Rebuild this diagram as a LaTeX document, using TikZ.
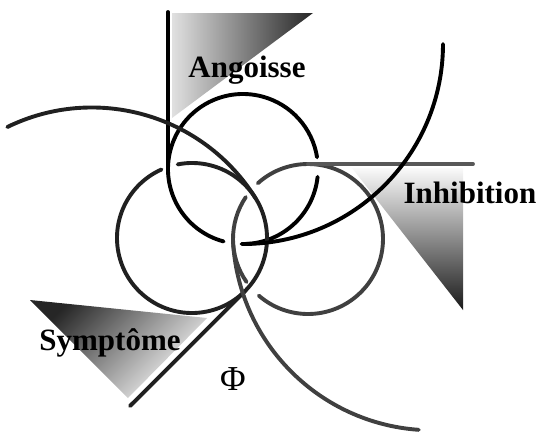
\documentclass[tikz,border=0pt]{standalone}
\usepackage{fontspec}
\setmainfont{Liberation Serif}
\usetikzlibrary{calc}
\definecolor{AngoisseInk}{RGB}{0,0,0}
\definecolor{SymptomeInk}{RGB}{32,32,32}
\definecolor{InhibitionInk}{RGB}{64,64,64}
\definecolor{InhibitionBar}{RGB}{88,88,88}

\begin{document}
\begin{tikzpicture}[x=1pt,y=-1pt,line width=3.9pt,line cap=round,
  wordlabel/.style={font=\bfseries\fontsize{31}{31}\selectfont,anchor=base,inner sep=0pt}]
  \useasboundingbox (0,0) rectangle (542,432);
  % ring centres and centres of the long arcs
  \coordinate (angC) at (243,169);
  \coordinate (symC) at (192,238);
  \coordinate (inhC) at (308,239);
  \coordinate (angO) at (243,44);
  \coordinate (symO) at (91.9,300.5);
  \coordinate (inhO) at (432.7,230.3);
  \coordinate (angEnd) at (168,12);
  \coordinate (inhEnd) at (473,164);
  \coordinate (symEnd) at (130,406);
  % shaded flags
  \shade[left color=black!12,right color=black!85] (172,13) -- (313,13) -- (172,118) -- cycle;
  \shade[top color=black!2,bottom color=black!90] (352,168) -- (463,168) -- (463,310) -- cycle;
  \shade[top color=black!85,bottom color=black!2,shading angle=45] (30,300) -- (207,318) -- (128,398) -- cycle;
  % the three rings, with gaps where they pass under
  \draw[AngoisseInk] (angC) ++(6:75) arc[start angle=6,end angle=91,radius=75];
  \draw[AngoisseInk] (angC) ++(105:75) arc[start angle=105,end angle=351,radius=75];
  \draw[SymptomeInk] (symC) ++(259:75) arc[start angle=259,end angle=606,radius=75];
  \draw[InhibitionInk] (inhC) ++(228:75) arc[start angle=228,end angle=491,radius=75];
  \draw[InhibitionInk] (inhC) ++(145:75) arc[start angle=145,end angle=214,radius=75];
  % tangent lines
  \draw[AngoisseInk] ($(angC)+(180:75)$) -- (angEnd);
  \draw[InhibitionBar] ($(inhC)+(270:75)$) -- (inhEnd);
  \draw[SymptomeInk] ($(symC)+(45:75)$) -- (symEnd);
  % long arcs
  \draw[AngoisseInk] (angO) ++(90:200) arc[start angle=90,end angle=0,radius=200];
  \draw[SymptomeInk] (symO) ++(-116:193) arc[start angle=-116,end angle=-32,radius=193];
  \draw[InhibitionInk] (inhO) ++(176:200) arc[start angle=176,end angle=94,radius=200];
  % labels
  \node[wordlabel] (angText) at (247,77) {Angoisse};
  \node[wordlabel] (inhText) at (470,203) {Inhibition};
  \node[wordlabel] (symText) at (110,350) {Symptôme};
  \node[wordlabel,font=\fontsize{35}{35}\selectfont] (phiText) at (233,390) {Φ};
\end{tikzpicture}
\end{document}
